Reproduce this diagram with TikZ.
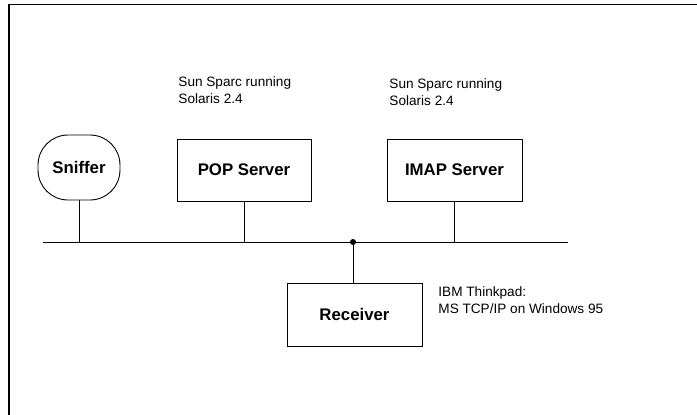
\documentclass[tikz,border=0pt]{standalone}
\usepackage{fontspec}
\setmainfont{Liberation Sans}
\usepackage{tikz}
\usetikzlibrary{positioning}
\tikzset{box/.style = {draw, line width = 0.9, inner sep = 0, font = \fontsize{16.8}{20}\selectfont\bfseries}}
\tikzset{note/.style = {inner sep = 0, anchor = north west, align = left, font = \fontsize{13.6}{17}\selectfont}}
\tikzset{tapdot/.style = {fill, circle, inner sep = 0, minimum size = 6}}

\begin{document}
\begin{tikzpicture}[x = 1pt, y = -1pt, line width = 0.9]
      \useasboundingbox (0, 0) rectangle (697, 415);
      \draw [line width = 1.2] (9, 415) -- (9, 4.5) -- (697, 4.5);
      \coordinate (busL) at (43, 242);
      \coordinate (busR) at (568, 242);
      \node [box, rounded corners = 30, minimum width = 82, minimum height = 65] (sniffer) at (79, 167.5) {Sniffer};
      \node [box, minimum width = 134, minimum height = 62] (pop) at (244, 170) {POP Server};
      \node [box, minimum width = 135, minimum height = 62] (imap) at (454.5, 170) {IMAP Server};
      \node [box, minimum width = 135, minimum height = 63] (recv) at (354.5, 314.5) {Receiver};
      \node [note] (popnote) at (178, 76) {Sun Sparc running\\Solaris 2.4};
      \node [note] (imapnote) at (389, 78) {Sun Sparc running\\Solaris 2.4};
      \node [note] (recvnote) at (438, 286) {IBM Thinkpad:\\MS TCP/IP on Windows 95};
      \draw (busL) -- (busR);
      \node [tapdot] (tap) at (353, 242) {};
      \draw (sniffer.south) -- (sniffer.south |- busL);
      \draw (pop.south) -- (pop.south |- busL);
      \draw (imap.south) -- (imap.south |- busL);
      \draw (tap.center) -- (tap.center |- recv.north);
    \end{tikzpicture}
\end{document}
